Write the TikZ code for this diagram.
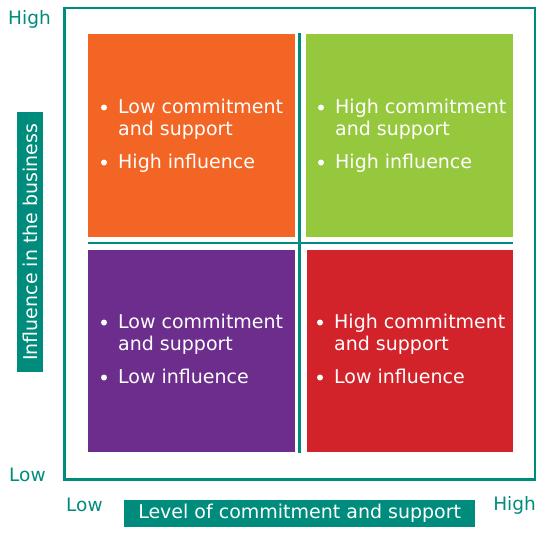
\documentclass[tikz,border=0pt]{standalone}
\usepackage{fontspec}
\setmainfont{DejaVu Sans}
\definecolor{teal1}{RGB}{0,140,124}
\definecolor{qorange}{RGB}{242,101,36}
\definecolor{qgreen}{RGB}{150,200,62}
\definecolor{qpurple}{RGB}{108,45,140}
\definecolor{qred}{RGB}{210,35,43}
\tikzset{
  bul/.style={circle, fill=white, inner sep=0pt, minimum size=6pt},
  txt/.style={text=white, inner sep=0pt, anchor=base west, font=\fontsize{19}{22}\selectfont},
  axlab/.style={text=teal1, inner sep=0pt, font=\fontsize{18.5}{21}\selectfont},
  axbox/.style={fill=teal1, text=white, inner sep=0pt, font=\fontsize{19}{21}\selectfont},
  tealline/.style={draw=teal1, line width=2.6pt},
}
\newcommand\qtext[6]{%
  \node[bul] (#1b1) at (#2,#3-5.5) {};
  \node[txt] (#1l1) at (#2+14,#3) {#4};
  \node[txt] (#1l2) at (#2+14,#3+22) {#5};
  \node[bul] (#1b2) at (#2,#3+49.5) {};
  \node[txt] (#1l3) at (#2+14,#3+55) {#6};
}
\begin{document}
\begin{tikzpicture}[x=1pt,y=-1pt]
\useasboundingbox (0,0) rectangle (547,552);
% frame
\draw[tealline] (64.5,8) rectangle (535,479.5);
% quadrants
\fill[qorange] (88,34) rectangle (295,237);
\fill[qgreen] (306,34) rectangle (512.5,237);
\fill[qpurple] (88,249.5) rectangle (295,452);
\fill[qred] (306.5,249.5) rectangle (512.5,452);
% cross lines
\coordinate (vt) at (299.5,33);
\coordinate (vb) at (299.5,453);
\coordinate (hl) at (88,243);
\coordinate (hr) at (512.5,243);
\draw[tealline] (vt) -- (vb);
\draw[tealline] (hl) -- (hr);
% texts
\qtext{o}{104}{113}{Low commitment}{and support}{High influence}
\qtext{g}{321}{113}{High commitment}{and support}{High influence}
\qtext{p}{104}{328}{Low commitment}{and support}{Low influence}
\qtext{r}{320}{328}{High commitment}{and support}{Low influence}
% axis labels
\node[axlab, anchor=base west] (hightl) at (8,24) {High};
\node[axlab, anchor=base west] (lowl) at (9,481) {Low};
\node[axlab, anchor=base west] (lowb) at (66,511) {Low};
\node[axlab, anchor=base east] (highb) at (536,510) {High};
% axis boxes
\node[axbox, minimum width=351pt, minimum height=27pt, anchor=north west] (xbox) at (124,500) {Level of commitment and support};
\node[axbox, minimum width=260pt, minimum height=26pt, rotate=90, anchor=north east] (ybox) at (17,112) {Influence in the business};
\end{tikzpicture}
\end{document}
